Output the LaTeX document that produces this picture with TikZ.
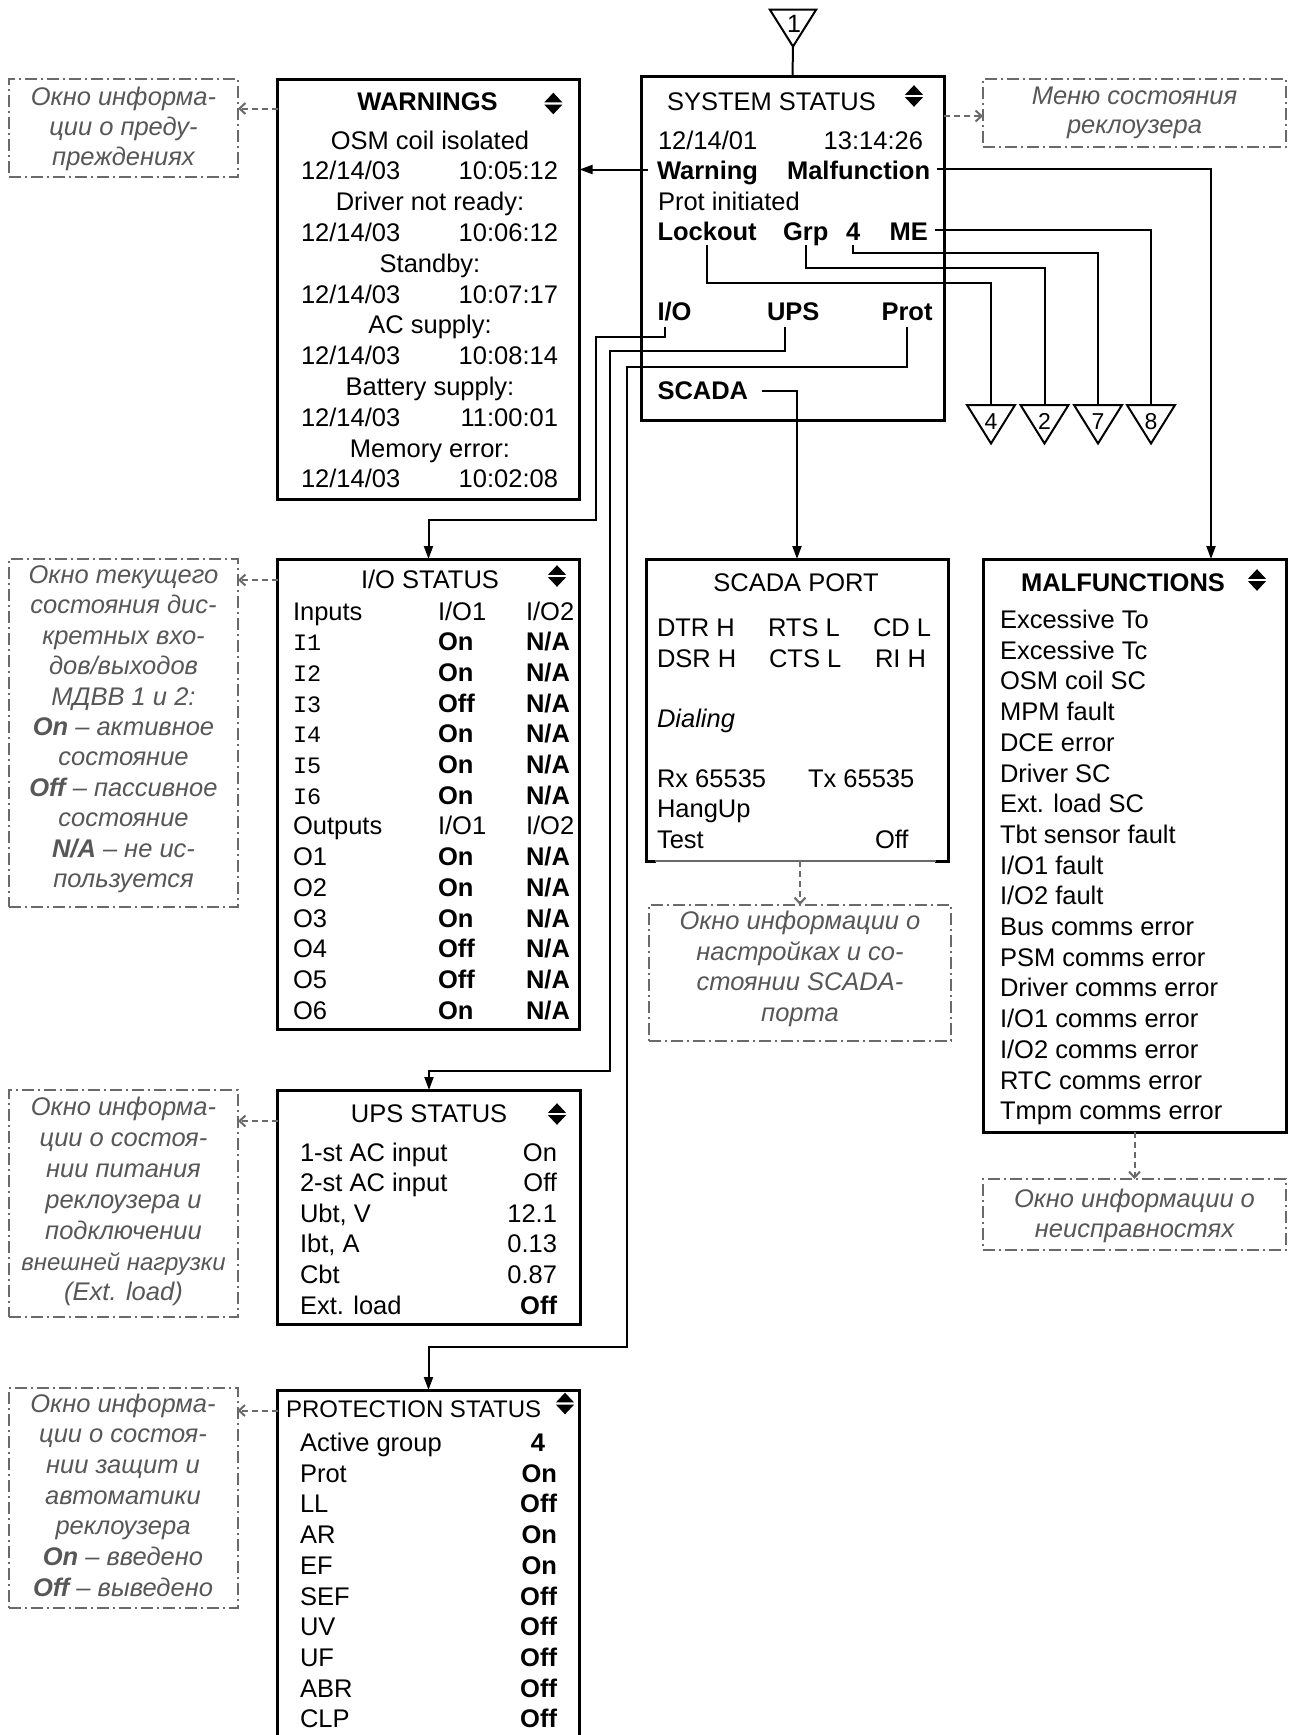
\documentclass[tikz,border=0pt]{standalone}
\usepackage{fontspec}
\setmainfont{Liberation Sans}
\setmonofont{Liberation Mono}
\usetikzlibrary{arrows.meta}
\definecolor{notegray}{HTML}{575757}
\definecolor{framegray}{HTML}{6A6A6A}
\newcommand\msz{\fontsize{25.5}{30.6}\selectfont}
\newcommand\nsz{\fontsize{25.5}{30}\selectfont}
\newcommand\monoI[1]{{\fontsize{23.5}{28}\selectfont\ttfamily #1}}
\newcommand\narrowline[1]{{\fontsize{24}{30}\selectfont #1}}
\tikzset{
  box/.style={draw, line width=3pt, inner sep=0pt, outer sep=0pt, anchor=north west},
  info/.style={draw=framegray, line width=2pt, dash pattern=on 12pt off 4pt on 2pt off 4pt, inner sep=0pt, outer sep=0pt, anchor=north west},
  txt/.style={inner sep=0pt, outer sep=0pt, anchor=base west, font=\msz},
  txtr/.style={txt, anchor=base east},
  txtc/.style={txt, anchor=base},
  bt/.style={txt, font=\msz\bfseries},
  note/.style={inner sep=0pt, outer sep=0pt, anchor=base, font=\nsz\itshape, text=notegray},
  line/.style={line width=2pt},
  arr/.style={line width=2pt, -{Triangle[length=13pt,width=9pt]}},
  darr/.style={draw=framegray, line width=2pt, dash pattern=on 6pt off 4pt, -{Straight Barb[length=6pt,width=11pt]}},
  tri/.style={line width=2pt, line join=miter},
  num/.style={inner sep=0pt, outer sep=0pt, anchor=base, font=\fontsize{23}{23}\selectfont},
  updn/.pic={\fill (-9,-1.2) -- (9,-1.2) -- (0,-10.8) -- cycle;
             \fill (-9,1.2) -- (9,1.2) -- (0,10.8) -- cycle;}
}
\begin{document}
\begin{tikzpicture}[x=1pt,y=-1pt]
\useasboundingbox (0,0) rectangle (1292,1735);
\clip (0,0) rectangle (1292,1735);
\fill[white] (0,0) rectangle (1292,1735);

% ---------- boxes ----------
\node[box, minimum width=303pt, minimum height=344pt] (sys) at (641,76) {};
\node[box, minimum width=302pt, minimum height=420pt] (warn) at (277.5,79) {};
\node[box, minimum width=302pt, minimum height=470pt] (io) at (277.5,559) {};
\node[box, minimum width=303pt, minimum height=234pt] (ups) at (277.5,1090) {};
\node[box, minimum width=302pt, minimum height=420pt] (prot) at (277.5,1390) {};
\node[box, minimum width=302pt, minimum height=302pt] (scp) at (646,559) {};
\node[box, minimum width=303pt, minimum height=573pt] (malf) at (983,559) {};
% thin grey bottom edge of the SCADA port window, with black corners
\draw[white, line width=3.4pt] ([xshift=10pt]scp.south west) -- ([xshift=-13pt]scp.south east);
\draw[framegray, line width=1.5pt] ([xshift=9pt]scp.south west) -- ([xshift=-12pt]scp.south east);

\node[info, minimum width=229pt, minimum height=98pt] (winfo) at (9,79) {};
\node[info, minimum width=303pt, minimum height=68pt] (menu) at (983,79) {};
\node[info, minimum width=229pt, minimum height=348pt] (ioinfo) at (9,559) {};
\node[info, minimum width=229pt, minimum height=227pt] (upsinfo) at (9,1090) {};
\node[info, minimum width=229pt, minimum height=220pt] (protinfo) at (8.5,1388) {};
\node[info, minimum width=302pt, minimum height=136pt] (scinfo) at (649,905) {};
\node[info, minimum width=303pt, minimum height=71pt] (minfo) at (983,1179) {};

% ---------- triangles ----------
\coordinate (t1apex) at (793,46.5);
\draw[tri] (t1apex) -- ++(-23.25,-37) -- ++(46.5,0) -- cycle;
\node[num, font=\fontsize{25}{25}\selectfont] (trn1) at (794,32.5) {1};
\foreach \n/\x in {4/991, 2/1044.5, 7/1098, 8/1151} {
  \coordinate (tri\n) at (\x,405);
  \draw[tri] (tri\n) ++(-24,0) -- ++(48,0) -- ++(-24,38.5) -- cycle;
  \node[num] (trn\n) at (\x,429) {\n};
}

% ---------- system status ----------
\node[txt] (ssh) at (667,110) {SYSTEM STATUS};
\pic at (914,96) {updn};
\node[txt] (sdate) at (658,149) {12/14/01};
\node[txtr] (stime) at (923,149) {13:14:26};
\node[bt] (wng) at (657,179.5) {Warning};
\node[bt] (mfn) at (787,179.5) {Malfunction};
\node[txt] (pin) at (658,210) {Prot initiated};
\node[bt] (lock) at (657.5,240.5) {Lockout};
\node[bt] (grp) at (783,240.5) {Grp};
\node[bt] (n4) at (846,240.5) {4};
\node[bt] (me) at (889.5,240.5) {ME};
\node[bt] (iol) at (657.5,320) {I/O};
\node[bt] (upsl) at (767,320) {UPS};
\node[bt] (protl) at (881.5,320) {Prot};
\node[bt] (scd) at (657.5,399.5) {SCADA};

% ---------- warnings ----------
\node[txtc, font=\msz\bfseries] (whd) at (427.5,110.5) {WARNINGS};
\pic at (553.3,103.5) {updn};
\foreach \t [count=\i from 0] in {OSM coil isolated, Driver not ready:, Standby:, AC supply:, Battery supply:, Memory error:}
  \node[txtc] (wc\i) at (430, 149+61.6*\i) {\t};
\foreach \tm [count=\i from 0] in {10:05:12, 10:06:12, 10:07:17, 10:08:14, 11:00:01, 10:02:08} {
  \node[txt] (wd\i) at (301, 179.8+61.6*\i) {12/14/03};
  \node[txtr] (wt\i) at (558, 179.8+61.6*\i) {\tm};
}

% ---------- I/O status ----------
\node[txtc] (iohd) at (430,588) {I/O STATUS};
\pic at (557,576) {updn};
\foreach \t [count=\i from 0] in {Inputs,\monoI{I1},\monoI{I2},\monoI{I3},\monoI{I4},\monoI{I5},\monoI{I6},Outputs,O1,O2,O3,O4,O5,O6}
  \node[txt] (ioA\i) at (293, 620+30.7*\i) {\t};
\foreach \t [count=\i from 0] in {I/O1,\textbf{On},\textbf{On},\textbf{Off},\textbf{On},\textbf{On},\textbf{On},I/O1,\textbf{On},\textbf{On},\textbf{On},\textbf{Off},\textbf{Off},\textbf{On}}
  \node[txt] (ioB\i) at (438, 620+30.7*\i) {\t};
\foreach \t [count=\i from 0] in {I/O2,\textbf{N/A},\textbf{N/A},\textbf{N/A},\textbf{N/A},\textbf{N/A},\textbf{N/A},I/O2,\textbf{N/A},\textbf{N/A},\textbf{N/A},\textbf{N/A},\textbf{N/A},\textbf{N/A}}
  \node[txt] (ioC\i) at (526, 620+30.7*\i) {\t};

% ---------- SCADA port ----------
\node[txtc] (schd) at (796,591) {SCADA PORT};
\node[txt] (sc1) at (657,636.5) {DTR H};
\node[txt] (sc2) at (768,636.5) {RTS L};
\node[txt] (sc3) at (873,636.5) {CD L};
\node[txt] (sc4) at (657,667) {DSR H};
\node[txt] (sc5) at (769,667) {CTS L};
\node[txt] (sc6) at (875,667) {RI H};
\node[txt, font=\msz\itshape] (sc7) at (657,727) {Dialing};
\node[txt] (sc8) at (657,787) {Rx 65535};
\node[txt] (sc9) at (808,787) {Tx 65535};
\node[txt] (sc10) at (657,817.5) {HangUp};
\node[txt] (sc11) at (657,848.5) {Test};
\node[txt] (sc12) at (875,848.5) {Off};

% ---------- malfunctions ----------
\node[txtc, font=\msz\bfseries] (mhd) at (1123,591) {MALFUNCTIONS};
\pic at (1257,580) {updn};
\foreach \t [count=\i from 0] in {Excessive To, Excessive Tc, OSM coil SC, MPM fault, DCE error, Driver SC, Ext. load SC, Tbt sensor fault, I/O1 fault, I/O2 fault, Bus comms error, PSM comms error, Driver comms error, I/O1 comms error, I/O2 comms error, RTC comms error, Tmpm comms error}
  \node[txt] (mi\i) at (1000, 628.5+30.7*\i) {\t};

% ---------- UPS status ----------
\node[txtc] (uhd) at (429,1122) {UPS STATUS};
\pic at (557,1114) {updn};
\node[txt] (u1a) at (300,1161) {1-st AC input};   \node[txtr] (u1b) at (557,1161) {On};
\node[txt] (u2a) at (300,1191.6) {2-st AC input}; \node[txtr] (u2b) at (557,1191.6) {Off};
\node[txt] (u3a) at (300,1222.2) {Ubt, V};        \node[txtr] (u3b) at (557,1222.2) {12.1};
\node[txt] (u4a) at (300,1252.8) {Ibt, A};        \node[txtr] (u4b) at (557,1252.8) {0.13};
\node[txt] (u5a) at (300,1283.4) {Cbt};           \node[txtr] (u5b) at (557,1283.4) {0.87};
\node[txt] (u6a) at (300,1314) {Ext. load};       \node[txtr, font=\msz\bfseries] (u6b) at (557,1314) {Off};

% ---------- protection status ----------
\node[txt, font=\fontsize{24}{28}\selectfont] (phd) at (286,1417.7) {PROTECTION STATUS};
\pic at (565,1403.5) {updn};
\node[txt] (p0a) at (300,1451.5) {Active group};
\node[txtc, font=\msz\bfseries] (p0b) at (538,1451.5) {4};
\foreach \a/\b [count=\i] in {Prot/On, LL/Off, AR/On, EF/On, SEF/Off, UV/Off, UF/Off, ABR/Off, CLP/Off} {
  \node[txt] (p\i a) at (300, 1451.5+30.7*\i) {\a};
  \node[txtr, font=\msz\bfseries] (p\i b) at (557, 1451.5+30.7*\i) {\b};
}

% ---------- notes ----------
\foreach \t [count=\i from 0] in {Окно информа-, ции о преду-, преждениях}
  \node[note] (wi\i) at (123.5, 105+30*\i) {\t};
\node[note] (mn0) at (1134.5,104) {Меню состояния};
\node[note] (mn1) at (1134.5,133) {реклоузера};
\foreach \t [count=\i from 0] in {Окно текущего, состояния дис-, кретных вхо-, дов/выходов, МДВВ 1 и 2:, \textbf{On} – активное, состояние, \textbf{Off} – пассивное, состояние, \textbf{N/A} – не ис-, пользуется}
  \node[note] (ii\i) at (123.5, 583.5+30.4*\i) {\t};
\foreach \t [count=\i from 0] in {Окно информа-, ции о состоя-, нии питания, реклоузера и, подключении, \narrowline{внешней нагрузки}, (Ext. load)}
  \node[note] (ui\i) at (123.5, 1115.5+30.9*\i) {\t};
\foreach \t [count=\i from 0] in {Окно информа-, ции о состоя-, нии защит и, автоматики, реклоузера, \textbf{On} – введено, \textbf{Off} – выведено}
  \node[note] (pi\i) at (123, 1412+30.7*\i) {\t};
\foreach \t [count=\i from 0] in {Окно информации о, настройках и со-, стоянии SCADA-, порта}
  \node[note] (si\i) at (800, 929.7+30.6*\i) {\t};
\node[note] (mi0n) at (1134.5,1207) {Окно информации о};
\node[note] (mi1n) at (1134.5,1237) {неисправностях};

% ---------- connectors ----------
\draw[line] (t1apex) -- (sys.north);
\coordinate (wstart) at ([xshift=-9pt,yshift=10pt]wng.base west);
\draw[arr] (wstart) -- (wstart -| warn.east);
\coordinate (mstart) at ([xshift=7pt,yshift=10.5pt]mfn.base east);
\draw[arr] (mstart) -| ([xshift=76.5pt]malf.north);
\coordinate (mestart) at ([xshift=7pt,yshift=10.5pt]me.base east);
\draw[line] (mestart) -| (tri8);
\draw[line] ([yshift=-4pt]n4.base) -- ([yshift=-12.5pt]n4.base) -| (tri7);
\draw[line] ([yshift=-4pt]grp.base) -- ([yshift=-27.5pt]grp.base) -| (tri2);
\draw[line] ([yshift=-4pt]lock.base) -- ([yshift=-42.5pt]lock.base) -| (tri4);

\coordinate (iobend) at (596,520);
\coordinate (upsbend) at (610,1071);
\coordinate (protbend) at (627,1347);
\draw[arr] ([xshift=-10pt,yshift=-7pt]iol.base) -- ([xshift=-10pt,yshift=-17pt]iol.base) -| (iobend) -| (io.north);
\draw[arr] ([xshift=-8pt,yshift=-7pt]upsl.base) -- ([xshift=-8pt,yshift=-31pt]upsl.base) -| (upsbend) -| (ups.north);
\draw[arr] ([yshift=-7pt]protl.base) -- ([yshift=-47pt]protl.base) -| (protbend) -| (prot.north);
\draw[arr] ([xshift=14pt]scd.east) -| (scp.north);

% dashed pointers
\coordinate (mm) at ([yshift=-3pt]menu.west);
\draw[darr] (mm -| sys.east) -- (mm);
\coordinate (wa) at ([yshift=-29.5pt]warn.north west);
\draw[darr] (wa) -- (wa -| winfo.east);
\coordinate (ia) at ([yshift=-21pt]io.north west);
\draw[darr] (ia) -- (ia -| ioinfo.east);
\coordinate (ua) at ([yshift=-31pt]ups.north west);
\draw[darr] (ua) -- (ua -| upsinfo.east);
\coordinate (pa) at ([yshift=-20.5pt]prot.north west);
\draw[darr] (pa) -- (pa -| protinfo.east);
\draw[darr] (scinfo.north |- scp.south) -- (scinfo.north);
\draw[darr] (malf.south) -- (minfo.north);
\end{tikzpicture}
\end{document}
